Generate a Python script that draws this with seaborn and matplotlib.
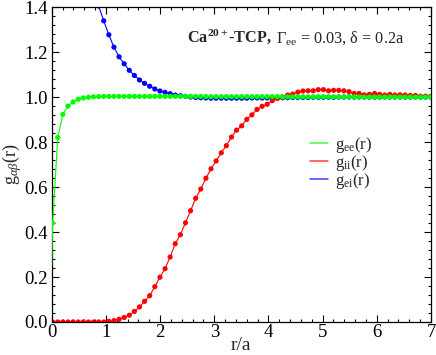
import numpy as np
import matplotlib
matplotlib.use("Agg")
from matplotlib import pyplot as plt
from matplotlib.ticker import MultipleLocator, FormatStrFormatter
import seaborn as sns

# sampling grid of the simulation points (r/a)
r = np.linspace(0.017, 6.995, 75)

g_ee = [0.440, 0.820, 0.923, 0.960, 0.978, 0.990, 0.996, 0.999, 1.001, 1.002,
        1.003, 1.003, 1.003, 1.003, 1.003, 1.003, 1.003, 1.003, 1.003, 1.003,
        1.003, 1.003, 1.003, 1.003, 1.003, 1.003, 1.003, 1.003, 1.003, 1.003,
        1.002, 1.002, 1.002, 1.002, 1.002, 1.002, 1.002, 1.002, 1.002, 1.002,
        1.002, 1.002, 1.002, 1.002, 1.002, 1.001, 1.001, 1.001, 1.001, 1.001,
        1.001, 1.001, 1.001, 1.001, 1.001, 1.001, 1.001, 1.001, 1.001, 1.001,
        1.000, 1.000, 1.000, 1.000, 1.000, 1.000, 1.000, 1.000, 1.000, 1.000,
        1.000, 1.000, 1.000, 1.000, 1.000]

g_ii = [0.000, 0.000, 0.000, 0.000, 0.000, 0.000, 0.000, 0.000, 0.000, 0.000,
        0.000, 0.003, 0.006, 0.012, 0.020, 0.030, 0.047, 0.067, 0.092, 0.117,
        0.157, 0.199, 0.237, 0.289, 0.348, 0.388, 0.441, 0.495, 0.550, 0.591,
        0.639, 0.681, 0.716, 0.752, 0.784, 0.822, 0.853, 0.872, 0.901, 0.921,
        0.945, 0.959, 0.968, 0.984, 0.994, 1.001, 1.009, 1.013, 1.022, 1.027,
        1.028, 1.028, 1.033, 1.033, 1.028, 1.030, 1.030, 1.028, 1.024, 1.016,
        1.016, 1.010, 1.012, 1.016, 1.012, 1.009, 1.012, 1.009, 1.010, 1.009,
        1.007, 1.007, 1.004, 1.004, 1.003]

# g_ei starts above the frame; values from the 9th grid point on
ei_start = 8
g_ei = [1.490, 1.405, 1.339, 1.277, 1.222, 1.179, 1.148, 1.119, 1.096, 1.076,
        1.061, 1.048, 1.036, 1.027, 1.021, 1.015, 1.009, 1.006, 1.003, 1.000,
        0.998, 0.997, 0.996, 0.995, 0.995, 0.995, 0.995, 0.995, 0.995, 0.995,
        0.995, 0.996, 0.996, 0.996, 0.996, 0.997, 0.997, 0.997, 0.997, 0.998,
        0.998, 0.998, 0.998, 0.999, 0.999, 0.999, 0.999, 0.999, 1.000, 1.000,
        1.000, 1.000, 1.000, 1.000, 1.000, 1.000, 1.000, 1.000, 1.000, 1.000,
        1.000, 1.000, 1.000, 1.000, 1.000, 1.000, 1.000]

# contact value of the g_ee curve at r = 0
ee_r0, ee_g0 = 0.0, 0.25

sns.set_style("ticks")
plt.rcParams['font.family'] = ['Liberation Serif', 'DejaVu Serif']
plt.rcParams['mathtext.fontset'] = 'custom'
plt.rcParams['mathtext.rm'] = 'Liberation Serif'
plt.rcParams['mathtext.it'] = 'Liberation Serif:italic'
plt.rcParams['mathtext.bf'] = 'Liberation Serif:bold'

fig = plt.figure(figsize=(4.36, 3.55), dpi=100)
ax = fig.add_axes([0.1186, 0.093, 0.8699, 0.887])

green, red, blue = '#00ff00', '#ff0000', '#0000ff'

sns.lineplot(x=np.r_[ee_r0, r], y=np.r_[ee_g0, g_ee], color=green, lw=0.8,
             label=r'g$_{\rm ee}$(r)', ax=ax, zorder=3)
sns.lineplot(x=r, y=g_ii, color=red, lw=0.8, label=r'g$_{\rm ii}$(r)', ax=ax, zorder=2)
sns.lineplot(x=r[ei_start:], y=g_ei, color=blue, lw=0.8,
             label=r'g$_{\rm ei}$(r)', ax=ax, zorder=1)

sns.scatterplot(x=r[ei_start:], y=g_ei, color=blue, s=14, edgecolor='none',
                legend=False, ax=ax, zorder=1)
sns.scatterplot(x=r, y=g_ii, color=red, s=14, edgecolor='none',
                legend=False, ax=ax, zorder=2)
sns.scatterplot(x=r, y=g_ee, color=green, s=14, edgecolor='none',
                legend=False, ax=ax, zorder=3)

ax.set_xlim(0, 7)
ax.set_ylim(0, 1.4)
ax.xaxis.set_major_locator(MultipleLocator(1))
ax.xaxis.set_minor_locator(MultipleLocator(0.2))
ax.yaxis.set_major_locator(MultipleLocator(0.2))
ax.yaxis.set_minor_locator(MultipleLocator(0.04))
ax.yaxis.set_major_formatter(FormatStrFormatter('%.1f'))
ax.tick_params(which='both', direction='in', top=True, right=True,
               labelsize=13.5, width=0.8, colors='black')
ax.tick_params(which='major', length=5)
ax.tick_params(axis='x', which='major', pad=1.5)
ax.tick_params(axis='y', which='major', pad=3)
ax.tick_params(which='minor', length=2.5)
for s in ax.spines.values():
    s.set_linewidth(0.9)
    s.set_color('black')

ax.set_xlabel('r/a', fontsize=14, labelpad=-3)
ax.set_ylabel(r'g$_{\alpha\beta}$(r)', fontsize=13, labelpad=0)

t1 = ax.text(0.357, 0.89, r'Ca$^{\mathbf{20+}}$-TCP,', transform=ax.transAxes,
             fontsize=11.7, fontweight='bold', va='baseline')
ax.annotate(r' Γ$_{\rm ee}$ = 0.03, δ = 0.2a', xy=(1, 0), xycoords=t1,
            xytext=(0, 2.2), textcoords='offset points', fontsize=11.7, va='baseline')

leg = ax.legend(loc='center left', bbox_to_anchor=(0.681, 0.505), frameon=False,
                fontsize=12, handlelength=1.1, handletextpad=0.4, labelspacing=-0.1,
                borderpad=0, borderaxespad=0)
for h in leg.get_lines():
    h.set_alpha(0.75)
    h.set_linewidth(1.1)

plt.savefig('out.png', dpi=100)
